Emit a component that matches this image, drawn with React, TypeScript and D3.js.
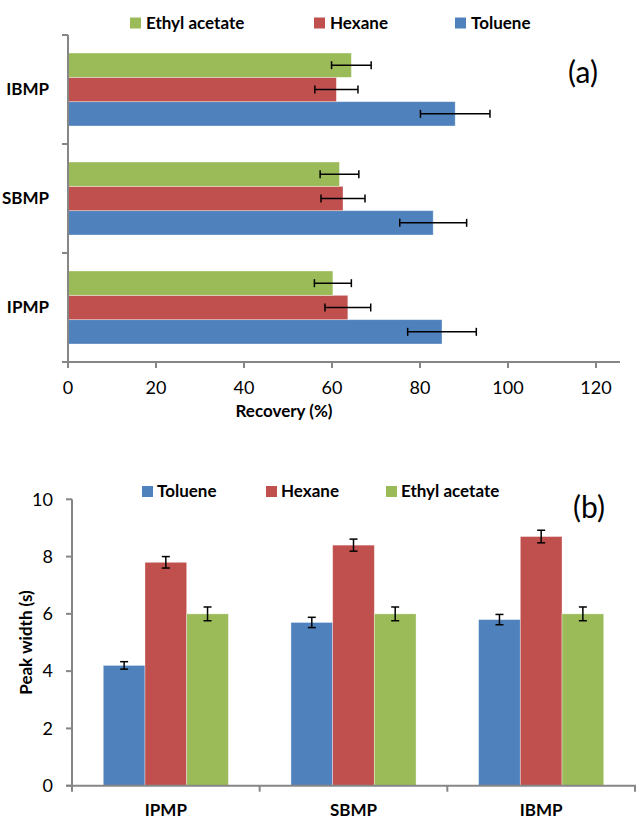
import * as d3 from "d3";

const W = 636;
const H = 819;
const FONT = "Lato, 'Open Sans', sans-serif";

// series
const seriesNames = ["Toluene", "Hexane", "Ethyl acetate"];
const seriesColors = ["#4F81BD", "#C0504D", "#9BBB59"];

// (a) recovery, %
const compoundsA = ["IBMP", "SBMP", "IPMP"];
const recTol = [88, 83, 85];
const recTolErr = [7.9, 7.6, 7.8];
const recHex = [61, 62.5, 63.6];
const recHexErr = [4.9, 5, 5.2];
const recEth = [64.4, 61.7, 60.2];
const recEthErr = [4.5, 4.4, 4.2];
const recTicks = [0, 20, 40, 60, 80, 100, 120];

// (b) peak width, s
const compoundsB = ["IPMP", "SBMP", "IBMP"];
const pwTol = [4.2, 5.7, 5.8];
const pwTolErr = [0.13, 0.18, 0.18];
const pwHex = [7.8, 8.4, 8.7];
const pwHexErr = [0.2, 0.21, 0.22];
const pwEth = [6.0, 6.0, 6.0];
const pwEthErr = [0.24, 0.24, 0.24];
const pwTicks = [0, 2, 4, 6, 8, 10];

const AXIS = "#868686";
const LBL = 17;

function ChartA() {
  const x = d3.scaleLinear().domain([0, 120]).range([68, 596]);
  const y = d3.scaleBand().domain(compoundsA).range([35, 362]);
  // top-to-bottom order inside a group: Ethyl acetate, Hexane, Toluene
  const inner = d3
    .scaleBand()
    .domain(["Ethyl acetate", "Hexane", "Toluene"])
    .range([0, y.bandwidth()])
    .paddingOuter(0.74);

  const series = [
    { name: "Toluene", vals: recTol, errs: recTolErr, color: seriesColors[0] },
    { name: "Hexane", vals: recHex, errs: recHexErr, color: seriesColors[1] },
    { name: "Ethyl acetate", vals: recEth, errs: recEthErr, color: seriesColors[2] },
  ];

  const bounds = [...compoundsA.map((c) => y(c)!), 362];

  const legend = [
    { name: "Ethyl acetate", color: seriesColors[2], x: 130 },
    { name: "Hexane", color: seriesColors[1], x: 314 },
    { name: "Toluene", color: seriesColors[0], x: 455 },
  ];

  return (
    <g>
      {/* legend */}
      {legend.map((l) => (
        <g key={l.name}>
          <rect x={l.x} y={17.5} width={11} height={11} fill={l.color} />
          <text x={l.x + 16} y={23} dy="0.35em" fontSize={LBL} fontWeight="bold" fill="#000">
            {l.name}
          </text>
        </g>
      ))}

      {/* bars */}
      {series.map((s) =>
        compoundsA.map((c, i) => {
          const y0 = y(c)! + inner(s.name)!;
          return (
            <rect
              key={s.name + c}
              x={x(0)}
              y={y0}
              width={x(s.vals[i]) - x(0)}
              height={inner.bandwidth()}
              fill={s.color}
              stroke="rgba(255,255,255,0.45)"
              strokeWidth={0.8}
            />
          );
        })
      )}

      {/* error bars */}
      {series.map((s) =>
        compoundsA.map((c, i) => {
          const yc = y(c)! + inner(s.name)! + inner.bandwidth() / 2;
          const lo = x(s.vals[i] - s.errs[i]);
          const hi = x(s.vals[i] + s.errs[i]);
          return (
            <g key={"e" + s.name + c} stroke="#000" strokeWidth={1.5}>
              <line x1={lo} x2={hi} y1={yc} y2={yc} />
              <line x1={lo} x2={lo} y1={yc - 4} y2={yc + 4} />
              <line x1={hi} x2={hi} y1={yc - 4} y2={yc + 4} />
            </g>
          );
        })
      )}

      {/* axes */}
      <g stroke={AXIS} strokeWidth={2}>
        <line x1={68} x2={68} y1={35} y2={362} />
        <line x1={62} x2={620} y1={362} y2={362} />
        {bounds.map((b, i) => (
          <line key={"yt" + i} x1={62} x2={68} y1={b} y2={b} />
        ))}
        {recTicks.map((t) => (
          <line key={"xt" + t} x1={x(t)} x2={x(t)} y1={362} y2={368} />
        ))}
      </g>
      {recTicks.map((t) => (
        <text key={"xl" + t} x={x(t)} y={388} dy="0.35em" textAnchor="middle" fontSize={18} fill="#000">
          {t}
        </text>
      ))}
      {compoundsA.map((c) => (
        <text
          key={"yl" + c}
          x={49}
          y={y(c)! + y.bandwidth() / 2}
          dy="0.35em"
          textAnchor="end"
          fontSize={LBL}
          fontWeight="bold"
          fill="#000"
        >
          {c}
        </text>
      ))}
      <text x={284} y={411} dy="0.35em" textAnchor="middle" fontSize={LBL} fontWeight="bold" fill="#000">
        Recovery (%)
      </text>
      <text x={583} y={72} dy="0.35em" textAnchor="middle" fontSize={30} fill="#000">
        (a)
      </text>
    </g>
  );
}

function ChartB() {
  const x = d3.scaleBand().domain(compoundsB).range([72, 635]);
  const inner = d3.scaleBand().domain(seriesNames).range([0, x.bandwidth()]).paddingOuter(0.75);
  const y = d3.scaleLinear().domain([0, 10]).range([785.7, 499.3]);

  const series = [
    { name: "Toluene", vals: pwTol, errs: pwTolErr, color: seriesColors[0] },
    { name: "Hexane", vals: pwHex, errs: pwHexErr, color: seriesColors[1] },
    { name: "Ethyl acetate", vals: pwEth, errs: pwEthErr, color: seriesColors[2] },
  ];

  const bounds = [...compoundsB.map((c) => x(c)!), 635];

  const legend = [
    { name: "Toluene", color: seriesColors[0], x: 142 },
    { name: "Hexane", color: seriesColors[1], x: 266 },
    { name: "Ethyl acetate", color: seriesColors[2], x: 386 },
  ];

  return (
    <g>
      {legend.map((l) => (
        <g key={l.name}>
          <rect x={l.x} y={486} width={11} height={11} fill={l.color} />
          <text x={l.x + 15} y={491.5} dy="0.35em" fontSize={LBL} fontWeight="bold" fill="#000">
            {l.name}
          </text>
        </g>
      ))}

      {series.map((s) =>
        compoundsB.map((c, i) => (
          <rect
            key={s.name + c}
            x={x(c)! + inner(s.name)!}
            y={y(s.vals[i])}
            width={inner.bandwidth()}
            height={y(0) - y(s.vals[i])}
            fill={s.color}
            stroke="rgba(255,255,255,0.45)"
            strokeWidth={0.8}
          />
        ))
      )}

      {series.map((s) =>
        compoundsB.map((c, i) => {
          const xc = x(c)! + inner(s.name)! + inner.bandwidth() / 2;
          const lo = y(s.vals[i] - s.errs[i]);
          const hi = y(s.vals[i] + s.errs[i]);
          return (
            <g key={"e" + s.name + c} stroke="#000" strokeWidth={1.5}>
              <line x1={xc} x2={xc} y1={lo} y2={hi} />
              <line x1={xc - 4} x2={xc + 4} y1={lo} y2={lo} />
              <line x1={xc - 4} x2={xc + 4} y1={hi} y2={hi} />
            </g>
          );
        })
      )}

      <g stroke={AXIS} strokeWidth={2}>
        <line x1={72} x2={72} y1={y(10)} y2={y(0)} />
        <line x1={66} x2={636} y1={y(0)} y2={y(0)} />
        {pwTicks.map((t) => (
          <line key={"yt" + t} x1={66} x2={72} y1={y(t)} y2={y(t)} />
        ))}
        {bounds.map((b, i) => (
          <line key={"xt" + i} x1={b} x2={b} y1={y(0)} y2={y(0) + 6} />
        ))}
      </g>
      {pwTicks.map((t) => (
        <text key={"yl" + t} x={53} y={y(t)} dy="0.35em" textAnchor="end" fontSize={18} fill="#000">
          {t}
        </text>
      ))}
      {compoundsB.map((c) => (
        <text
          key={"xl" + c}
          x={x(c)! + x.bandwidth() / 2}
          y={810}
          dy="0.35em"
          textAnchor="middle"
          fontSize={LBL}
          fontWeight="bold"
          fill="#000"
        >
          {c}
        </text>
      ))}
      <text
        transform={`translate(26,${(y(0) + y(10)) / 2}) rotate(-90)`}
        dy="0.35em"
        textAnchor="middle"
        fontSize={LBL}
        fontWeight="bold"
        fill="#000"
      >
        Peak width (s)
      </text>
      <text x={589} y={507} dy="0.35em" textAnchor="middle" fontSize={30} fill="#000">
        (b)
      </text>
    </g>
  );
}

export default function App() {
  return (
    <div style={{ position: "absolute", left: 0, top: 0 }}>
      <svg width={W} height={H} style={{ display: "block", fontFamily: FONT }}>
        <rect width={W} height={H} fill="#fff" />
        <ChartA />
        <ChartB />
      </svg>
    </div>
  );
}
